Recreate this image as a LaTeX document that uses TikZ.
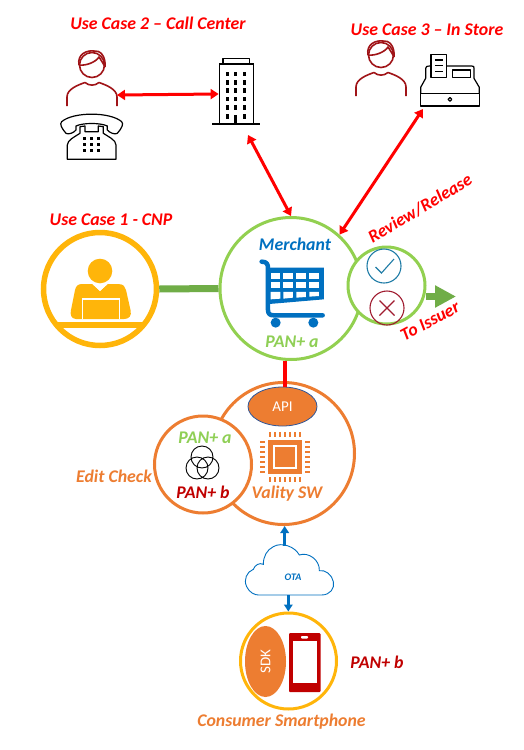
\documentclass[tikz,border=0pt]{standalone}
\usepackage{fontspec}
\setmainfont{Carlito}
\usetikzlibrary{arrows.meta,shapes.geometric}
\definecolor{cRed}{HTML}{FF0000}
\definecolor{cDark}{HTML}{C00000}
\definecolor{cOrange}{HTML}{ED7D31}
\definecolor{cGold}{HTML}{FFB50A}
\definecolor{cGreen}{HTML}{92D050}
\definecolor{cLime}{HTML}{8FCF55}
\definecolor{cArrow}{HTML}{70AD47}
\definecolor{cBlue}{HTML}{0070C0}
\definecolor{cPerson}{HTML}{A01418}
\definecolor{cCheck}{HTML}{1F7CA6}
\definecolor{cCross}{HTML}{A01C30}
\definecolor{cEdge}{HTML}{2F5597}
\tikzset{
 lbl/.style={font=\fontsize{17.8}{20}\selectfont\bfseries\itshape,inner sep=0pt,text=#1},
 ring/.style={circle,inner sep=0pt,fill=white,draw=#1},
 redarrow/.style={draw=cRed,line width=3pt,{Triangle[length=8pt,width=10pt]}-{Triangle[length=8pt,width=10pt]}},
 bluearrow/.style={draw=cBlue,line width=2.6pt,-{Triangle[length=7pt,width=8.5pt]}},
 icon/.style={draw=black,line width=1.2pt,line join=round},
 persondraw/.style={draw=cPerson,line width=1.6pt,line join=round},
}
\newcommand{\personicon}[2]{%
 \begin{scope}[shift={(#1,#2)}]
  \draw[persondraw] (0,1) circle (12.5);
  \draw[persondraw] (-13,1) .. controls (-15,-10) and (-5,-14) .. (2,-13) .. controls (8,-14) and (14,-8) .. (13,3);
  \draw[persondraw] (-13,1) .. controls (-6,2) and (4,-2) .. (7,-7) .. controls (9,-4) and (11,-1) .. (13,3);
  \draw[persondraw] (-25,42) -- (-25,33) .. controls (-25,25) and (-14,21) .. (-7,18.5) .. controls (-3,22) and (3,22) .. (7,18.5) .. controls (14,21) and (25,25) .. (25,33) -- (25,42);
 \end{scope}}
\begin{document}
\begin{tikzpicture}[x=1pt,y=-1pt]
\useasboundingbox (0,0) rectangle (523,750);
\fill[white] (0,0) rectangle (523,750);

% ---- titles
\node[lbl=cRed] (t2) at (158,23) {Use Case 2 – Call Center};
\node[lbl=cRed] (t3) at (427,30) {Use Case 3 – In Store};
\node[lbl=cRed] (t1) at (111,220) {Use Case 1 - CNP};

% ---- persons
\personicon{92}{64}
\personicon{381}{54}
\coordinate (p2) at (117,95);
\coordinate (reg) at (423,109);

% ---- telephone
\begin{scope}[shift={(30,0)},x=0.3333pt,y=-0.3333pt]
 \draw[icon] (95,365) .. controls (130,335) and (240,335) .. (275,365) .. controls (282,372) and (275,385) .. (262,400) .. controls (255,405) and (238,398) .. (232,390) -- (232,378) .. controls (210,368) and (160,368) .. (138,378) -- (138,390) .. controls (132,398) and (115,405) .. (108,400) .. controls (95,385) and (88,372) .. (95,365) -- cycle;
 \draw[icon] (112,478) -- (112,435) .. controls (112,420) and (135,410) .. (150,400) -- (150,380) -- (165,378) -- (165,395) -- (205,395) -- (205,378) -- (220,380) -- (220,400) .. controls (235,410) and (258,420) .. (258,435) -- (258,478) -- cycle;
 \foreach \px in {165,185,205} \foreach \py in {415,434,453}
  \fill (\px-4.5,\py-4.5) rectangle (\px+4.5,\py+4.5);
\end{scope}

% ---- building
\node[draw=black,line width=1.2pt,inner sep=0pt,minimum width=34.5pt,minimum height=60pt] (bldg) at (236.5,94) {};
\begin{scope}[shift={(30,0)},x=0.3333pt,y=-0.3333pt]
 \draw[icon] (579,193) -- (579,176) -- (658,176) -- (658,193);
 \draw[icon,line width=1.3pt] (547,372) -- (690,372);
 \foreach \px in {592,617,643} \foreach \py in {222,247,272,297,322}
  \fill (\px-5,\py-7) rectangle (\px+5,\py+7);
 \foreach \px in {592,643} \fill (\px-5,342) rectangle (\px+5,357);
 \fill (613,344) rectangle (621,372);
\end{scope}

% ---- cash register
\begin{scope}[shift={(330,10)},x=0.3333pt,y=-0.3333pt]
 \draw[icon] (272,250) rectangle (448,288);
 \draw[icon] (272,250) -- (272,232) -- (287,205) -- (287,175) .. controls (287,170) and (290,168) .. (303,168);
 \draw[icon] (350,168) -- (425,168) .. controls (432,168) and (432,170) .. (432,175) -- (432,205) -- (448,232) -- (448,250);
 \draw[icon] (303,133) rectangle (350,202);
 \foreach \py in {150,167,184} \draw[icon] (315,\py) -- (338,\py);
 \draw[icon] (368,180) rectangle (422,202);
 \draw[icon] (360,268) circle (5.5);
\end{scope}

% ---- circles
\node[ring=cGreen,line width=3pt,minimum size=142pt] (merchant) at (291,288.5) {};
\node[ring=cOrange,line width=3pt,minimum size=142pt] (vality) at (283.5,453.5) {};
\node[ring=cOrange,line width=3pt,minimum size=97pt] (edit) at (203,464.5) {};
\node[ring=cGold,line width=3pt,minimum size=96pt] (smart) at (288.5,661) {};
\node[ring=cGold,line width=5.5pt,minimum size=113pt] (uc1) at (100,289) {};

% ---- API sits on the orange ring
\node[ellipse,fill=cOrange,draw=cEdge,line width=0.8pt,inner sep=0pt,minimum width=69pt,minimum height=39pt,font=\fontsize{15}{17}\selectfont,text=white] (api) at (282.5,406.5) {API};

% ---- connectors
\draw[draw=cArrow,line width=7pt] (uc1.east) -- (merchant.west);
\draw[draw=cRed,line width=4pt] (merchant.-95) -- (merchant.-95 |- api.north);
\draw[redarrow] (p2) -- (bldg.west);
\coordinate (bldgS) at (248,135);
\draw[redarrow] (bldgS) -- (merchant.north);
\draw[redarrow] (reg) -- (merchant.48);

% ---- review circle
\coordinate (issuer) at (456,296.5);
\draw[draw=cArrow,line width=6.5pt,-{Triangle[length=21pt,width=21pt]}] (426,296.5) -- (issuer);
\node[ring=cGreen,line width=3pt,minimum size=77pt] (review) at (386.5,285.5) {};
\node[circle,draw=cCheck,line width=1.1pt,inner sep=0pt,minimum size=34pt] (ok) at (384,266) {};
\draw[draw=cCheck,line width=1.1pt] (375.5,267) -- (381.5,273) -- (394,259);
\node[circle,draw=cCross,line width=1.1pt,inner sep=0pt,minimum size=34pt] (no) at (387,308) {};
\draw[draw=cCross,line width=1.1pt] (379.5,300.5) -- (394.5,315.5) (394.5,300.5) -- (379.5,315.5);
\node[lbl=cRed,rotate=31] (rr) at (420,208.5) {Review/Release};
\node[lbl=cRed,rotate=28] (ti) at (430,321) {To Issuer};

% ---- merchant
\node[lbl=cBlue] (mt) at (295,244) {Merchant};
\node[lbl=cLime] (pa) at (292,342) {PAN+ a};
\begin{scope}[shift={(210,200)},x=0.3333pt,y=-0.3333pt]
 \fill[cBlue] (178,203) -- (342,203) -- (342,298) -- (178,312) -- cycle;
 \draw[cBlue,line width=4.5pt,line cap=round,line join=round] (155,185) .. controls (170,185) and (174,192) .. (174,205) -- (174,330) .. controls (174,342) and (180,346) .. (192,346) -- (338,346);
 \foreach \cx in {182,220,259,298} {
  \fill[white] (\cx,219) rectangle ++(29,17);
  \fill[white] (\cx,247) rectangle ++(29,18);
 }
 \fill[white] (182,276) -- (211,276) -- (211,296) -- (182,298) -- cycle;
 \fill[white] (220,276) -- (249,276) -- (249,293) -- (220,296) -- cycle;
 \fill[white] (259,276) -- (288,276) -- (288,291) -- (259,293) -- cycle;
 \fill[white] (298,276) -- (327,276) -- (327,288) -- (298,290) -- cycle;
 \fill[cBlue] (197,368) circle (15);
 \fill[cBlue] (310,368) circle (15);
\end{scope}

% ---- use case 1 figure
\fill[cGold] (100,271) circle (12.3);
\fill[cGold] (82,284) -- (92,284) -- (100,291) -- (108,284) -- (118,284) .. controls (124,284) and (125,287) .. (126,290) -- (130.5,310) .. controls (132,316) and (129,319) .. (124,319) -- (76,319) .. controls (71,319) and (70,314) .. (71,310) -- (75,290) .. controls (76,286) and (78,284) .. (82,284) -- cycle;
\fill[white] (93,284) -- (100,291) -- (107,284) -- (104,283) -- (100,287) -- (96,283) -- cycle;
\draw[draw=white,line width=1.3pt] (82.5,319) -- (82.5,299) -- (119.5,299) -- (119.5,319);
\fill[cGold] (58,322) rectangle (142,327.5);

% ---- vality
\begin{scope}[shift={(285,457)}]
 \fill[cOrange] (-17,-17) rectangle (17,17);
 \draw[draw=white,line width=1.6pt] (-11,-11) rectangle (11,11);
 \foreach \d in {-15,-10,-5,0,5,10,15} {
  \fill[cOrange] (\d-1.1,-25) rectangle (\d+1.1,-20);
  \fill[cOrange] (\d-1.1,20) rectangle (\d+1.1,25);
  \fill[cOrange] (-25,\d-1.1) rectangle (-20,\d+1.1);
  \fill[cOrange] (20,\d-1.1) rectangle (25,\d+1.1);
 }
\end{scope}
\node[lbl=cOrange] (vs) at (287,494) {Vality SW};
\node[lbl=cOrange] (ec) at (114,476) {Edit Check};
\node[lbl=cLime] (pa2) at (205,438) {PAN+ a};
\node[lbl=cDark] (pb) at (203,492) {PAN+ b};
\draw[black,line width=0.9pt] (202,457) circle (11) (197,468) circle (11) (208,468) circle (11);

% ---- cloud
\begin{scope}[shift={(190,530)},x=0.3333pt,y=-0.3333pt]
 \draw[draw=cBlue,line width=0.9pt] (205,195) -- (395,195) .. controls (420,195) and (435,175) .. (430,155) .. controls (427,135) and (405,118) .. (388,122) .. controls (390,90) and (355,65) .. (328,75) .. controls (315,50) and (275,35) .. (250,50) .. controls (230,60) and (220,80) .. (220,103) .. controls (208,97) and (195,105) .. (190,118) .. controls (170,125) and (160,150) .. (170,170) .. controls (178,188) and (195,195) .. (205,195) -- cycle;
 \coordinate (cloudT) at (284,47);
 \coordinate (cloudB) at (295,195);
\end{scope}
\node[font=\fontsize{10}{12}\selectfont\bfseries\itshape,text=cBlue,inner sep=0pt] (ota) at (293,577) {OTA};
\draw[bluearrow] (cloudT) -- (vality.south -| cloudT);
\draw[bluearrow] (cloudB) -- (smart.north -| cloudB);

% ---- smartphone
\node[ellipse,fill=cOrange,inner sep=0pt,minimum width=41pt,minimum height=71pt] (sdkshape) at (265.5,661.5) {};
\node[font=\fontsize{15}{17}\selectfont,text=white,rotate=90,inner sep=0pt] (sdk) at (sdkshape) {SDK};
\fill[cDark,rounded corners=1pt] (289,633) rectangle (320.5,692);
\fill[white] (292.5,641) rectangle (317,683);
\fill[white,rounded corners=0.8pt] (301,636) rectangle (308,638.5);
\node[lbl=cDark] (pb2) at (377,662) {PAN+ b};
\node[lbl=cOrange] (cs) at (281.5,722) {Consumer Smartphone};
\end{tikzpicture}
\end{document}
